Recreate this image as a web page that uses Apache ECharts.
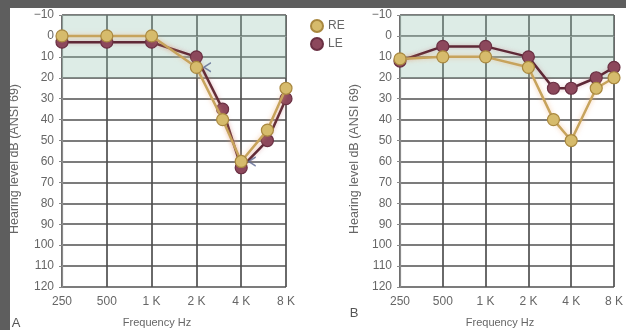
<!DOCTYPE html>
<html>
<head>
<meta charset="utf-8">
<script src="https://cdn.jsdelivr.net/npm/echarts@6/dist/echarts.min.js"></script>
<style>
  html, body { margin: 0; padding: 0; background: #5e5e5e; width: 626px; height: 330px; overflow: hidden; }
  #chart { position: absolute; left: 10px; top: 8px; width: 616px; height: 322px; background: #ffffff; }
</style>
</head>
<body>
<div id="chart"></div>
<script>
// ---- data ----
const freqs = [250, 500, 1000, 2000, 3000, 4000, 6000, 8000];
const xTickLabels = ['250', '500', '1 K', '2 K', '4 K', '8 K'];
const yTickLabels = ['\u221210', '0', '10', '20', '30', '40', '50', '60', '70', '80', '90', '100', '110', '120'];
const reA = [0, 0, 0, 15, 40, 60, 45, 25];
const leA = [3, 3, 3, 10, 35, 63, 50, 30];
const reB = [11, 10, 10, 15, 40, 50, 25, 20];
const leB = [12, 5, 5, 10, 25, 25, 20, 15];
const bcFreqsA = [2000, 4000];
const bcA = [15, 60];

// frequency -> octave position above 250 Hz (log2 scale)
const oct = f => Math.log2(f / 250);
const pairs = (fs, vs) => fs.map((f, i) => [oct(f), vs[i]]);

const chart = echarts.init(document.getElementById('chart'), null, { renderer: 'canvas' });

const FONT = 'Liberation Sans, Arial, sans-serif';
const textGray = '#666666';

function xAxisCfg(idx) {
  return {
    gridIndex: idx, type: 'value', min: 0, max: 5, interval: 1,
    axisLine: { show: true, lineStyle: { color: '#8a8a8a', width: 1.2 } },
    axisTick: { show: false },
    splitLine: { show: true, lineStyle: { color: '#505050', width: 1.7 } },
    axisLabel: { color: textGray, fontFamily: FONT, fontSize: 12, margin: 9,
      alignMinLabel: 'center', alignMaxLabel: 'center',
      formatter: v => xTickLabels[Math.round(v)] }
  };
}
function yAxisCfg(idx) {
  return {
    gridIndex: idx, type: 'value', inverse: true, min: -10, max: 120, interval: 10,
    axisLine: { show: true, lineStyle: { color: '#8a8a8a', width: 1.2 } },
    axisTick: { show: true, length: 3, lineStyle: { color: '#888' } },
    splitLine: { show: true, lineStyle: { color: '#505050', width: 1.7 } },
    axisLabel: { color: textGray, fontFamily: FONT, fontSize: 12, margin: 8,
      formatter: v => yTickLabels[Math.round((v + 10) / 10)] }
  };
}

const reStyle = {
  itemStyle: { color: '#d6bb6c', borderColor: '#a9883f', borderWidth: 1.2 },
  lineStyle: { color: '#c7a35c', width: 2.5, shadowBlur: 5, shadowColor: 'rgba(240,170,110,0.6)' }
};
const leStyle = {
  itemStyle: { color: '#8c485c', borderColor: '#6a3043', borderWidth: 1.2 },
  lineStyle: { color: '#5e2836', width: 2.5, shadowBlur: 4, shadowColor: 'rgba(200,120,130,0.5)' }
};

function lineSeries(name, idx, data, st, withArea) {
  const s = {
    name, type: 'line', xAxisIndex: idx, yAxisIndex: idx, data,
    symbol: 'circle', symbolSize: 12, z: name === 'RE' ? 4 : 3,
    itemStyle: st.itemStyle, lineStyle: st.lineStyle, emphasis: { disabled: true }
  };
  if (withArea) {
    s.markArea = {
      silent: true,
      itemStyle: { color: 'rgba(150,195,178,0.32)' },
      data: [[{ yAxis: -10 }, { yAxis: 20 }]]
    };
  }
  return s;
}

const nameText = 'Hearing level dB (ANSI 69)';

chart.setOption({
  animation: false,
  grid: [
    { left: 52, top: 7, width: 224, height: 272 },
    { left: 390, top: 7, width: 225, height: 272 }
  ],
  xAxis: [xAxisCfg(0), xAxisCfg(1)],
  yAxis: [yAxisCfg(0), yAxisCfg(1)],
  legend: {
    data: ['RE', 'LE'], orient: 'vertical', left: 295, top: 6,
    icon: 'circle', itemWidth: 12, itemHeight: 12, itemGap: 4,
    textStyle: { color: textGray, fontFamily: FONT, fontSize: 12 }
  },
  series: [
    lineSeries('LE', 0, pairs(freqs, leA), leStyle, true),
    lineSeries('RE', 0, pairs(freqs, reA), reStyle, false),
    lineSeries('LE', 1, pairs(freqs, leB), leStyle, true),
    lineSeries('RE', 1, pairs(freqs, reB), reStyle, false),
    {
      name: 'BC', type: 'scatter', xAxisIndex: 0, yAxisIndex: 0, z: 5,
      data: pairs(bcFreqsA, bcA),
      symbol: 'path://M10,0 L0,6 L10,12', symbolSize: [7, 9], symbolOffset: [11, 0],
      itemStyle: { color: 'none', borderColor: '#5a6690', borderWidth: 1.4 },
      emphasis: { disabled: true }
    }
  ],
  graphic: [
    { type: 'text', x: 5, y: 151, rotation: Math.PI / 2,
      style: { text: nameText, font: '12.5px ' + FONT, fill: textGray, textAlign: 'center', textVerticalAlign: 'middle', align: 'center', verticalAlign: 'middle' } },
    { type: 'text', x: 345, y: 151, rotation: Math.PI / 2,
      style: { text: nameText, font: '12.5px ' + FONT, fill: textGray, textAlign: 'center', textVerticalAlign: 'middle', align: 'center', verticalAlign: 'middle' } },
    { type: 'text', x: 147, y: 315,
      style: { text: 'Frequency Hz', font: '11px ' + FONT, fill: textGray, textAlign: 'center', textVerticalAlign: 'middle', align: 'center', verticalAlign: 'middle' } },
    { type: 'text', x: 490, y: 315,
      style: { text: 'Frequency Hz', font: '11px ' + FONT, fill: textGray, textAlign: 'center', textVerticalAlign: 'middle', align: 'center', verticalAlign: 'middle' } },
    { type: 'text', x: 6, y: 315,
      style: { text: 'A', font: '13px ' + FONT, fill: '#555', textAlign: 'center', textVerticalAlign: 'middle', align: 'center', verticalAlign: 'middle' } },
    { type: 'text', x: 344, y: 305,
      style: { text: 'B', font: '13px ' + FONT, fill: '#555', textAlign: 'center', textVerticalAlign: 'middle', align: 'center', verticalAlign: 'middle' } }
  ]
});
</script>
</body>
</html>
